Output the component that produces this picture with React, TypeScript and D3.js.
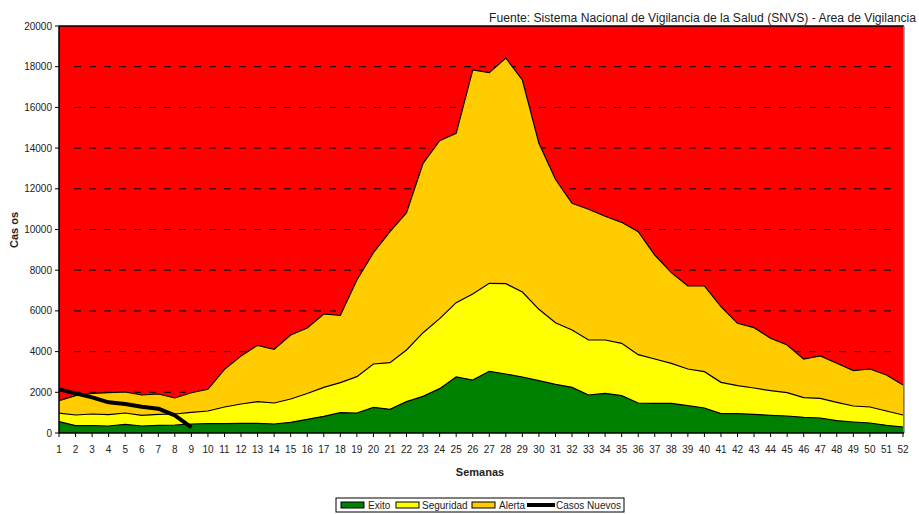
import React from "react";
import * as d3 from "d3";

const weeks: number[] = Array.from({ length: 52 }, (_, i) => i + 1);

// Upper boundary of each zone (cumulative levels)
const exito: number[] = [
  557, 360, 360, 344, 426, 344, 377, 393, 442, 459,
  459, 475, 475, 442, 524, 672, 819, 999, 983, 1261,
  1163, 1540, 1802, 2179, 2752, 2604, 3030, 2899, 2752, 2572,
  2391, 2244, 1867, 1949, 1835, 1474, 1458, 1458, 1343, 1229,
  950, 950, 917, 868, 835, 770, 737, 606, 540, 491,
  377, 295,
];
const seguridad: number[] = [
  980, 884, 933, 900, 983, 868, 917, 933, 1016, 1081,
  1278, 1425, 1540, 1474, 1671, 1940, 2244, 2474, 2768, 3390,
  3456, 4079, 4930, 5620, 6404, 6831, 7356, 7339, 6929, 6077,
  5421, 5061, 4570, 4570, 4406, 3849, 3636, 3424, 3145, 3014,
  2489, 2326, 2211, 2080, 1982, 1736, 1703, 1507, 1327, 1278,
  1081, 884,
];
const alerta: number[] = [
  1590, 1833, 1950, 1980, 2015, 1867, 1916, 1720, 1980, 2146,
  3130, 3784, 4310, 4113, 4816, 5160, 5848, 5783, 7518, 8860,
  9893, 10826, 13252, 14364, 14727, 17838, 17706, 18427, 17346, 14236,
  12467, 11288, 10993, 10650, 10352, 9893, 8747, 7878, 7224, 7224,
  6207, 5390, 5176, 4652, 4324, 3636, 3784, 3424, 3063, 3145,
  2850, 2359,
];
const casosNuevos: number[] = [2146, 1949, 1752, 1507, 1425, 1294, 1196, 868, 278];

const yTicks: number[] = [0, 2000, 4000, 6000, 8000, 10000, 12000, 14000, 16000, 18000, 20000];
const gridTicks: number[] = [2000, 4000, 6000, 8000, 10000, 12000, 14000, 16000, 18000];

const W = 919;
const H = 514;
const L = 59;
const R = 903;
const T = 26;
const B = 433;
const FONT = "Arial, 'Liberation Sans', sans-serif";

export default function App() {
  const x = d3.scaleLinear().domain([1, 52]).range([L, R]);
  const y = d3.scaleLinear().domain([0, 20000]).range([B, T]);

  const zones = [
    { top: alerta, bottom: seguridad, fill: "#FFCC00" },
    { top: seguridad, bottom: exito, fill: "#FFFF00" },
    { top: exito, bottom: null as number[] | null, fill: "#008000" },
  ];

  const areaGen = (top: number[], bottom: number[] | null) =>
    d3
      .area<number>()
      .x((d) => x(d))
      .y0((d, i) => (bottom ? y(bottom[i]) : y(0)))
      .y1((d, i) => y(top[i]))(weeks) || "";

  const lineGen = (vals: number[]) =>
    d3
      .line<number>()
      .x((d, i) => x(weeks[i]))
      .y((d) => y(d))(vals) || "";

  return (
    <svg
      width={W}
      height={H}
      style={{ position: "absolute", left: 0, top: 0, background: "#fff" }}
      fontFamily={FONT}
    >
      <text
        x={916}
        y={22}
        fontSize={12}
        textAnchor="end"
        fill="#222"
        textLength={427}
        lengthAdjust="spacingAndGlyphs"
      >
        Fuente: Sistema Nacional de Vigilancia de la Salud (SNVS) - Area de Vigilancia
      </text>

      {/* plot background */}
      <rect x={L} y={T} width={R + 1 - L} height={B - T} fill="#FF0000" />

      {/* gridlines */}
      {gridTicks.map((t) => (
        <line
          key={"g" + t}
          x1={L + 15}
          x2={R - 6}
          y1={y(t)}
          y2={y(t)}
          stroke="#000"
          strokeWidth={1}
          strokeDasharray="7,8"
        />
      ))}

      {/* areas */}
      {zones.map((z, i) => (
        <path key={"a" + i} d={areaGen(z.top, z.bottom)} fill={z.fill} stroke="none" />
      ))}
      {[alerta, seguridad, exito].map((s, i) => (
        <path key={"l" + i} d={lineGen(s)} fill="none" stroke="#000" strokeWidth={1.2} />
      ))}

      {/* casos nuevos */}
      <path
        d={lineGen(casosNuevos)}
        fill="none"
        stroke="#000"
        strokeWidth={4}
        strokeLinejoin="round"
      />

      {/* borders */}
      <line x1={L} x2={R + 1} y1={T} y2={T} stroke="#000" strokeWidth={1.5} />
      <line x1={R + 1} x2={R + 1} y1={T} y2={B} stroke="#888" strokeWidth={1.5} />
      <line x1={L} x2={L} y1={T} y2={B} stroke="#000" strokeWidth={1.5} />
      <line x1={L} x2={R + 1} y1={B} y2={B} stroke="#000" strokeWidth={1.5} />

      {/* y ticks */}
      {yTicks.map((t) => (
        <g key={"y" + t}>
          <line x1={L - 4} x2={L} y1={y(t)} y2={y(t)} stroke="#000" />
          <text x={52} y={y(t)} dy="0.35em" fontSize={10} textAnchor="end" fill="#222">
            {t}
          </text>
        </g>
      ))}

      {/* x ticks */}
      {weeks.map((w) => (
        <g key={"x" + w}>
          <line x1={x(w)} x2={x(w)} y1={B} y2={B + 4} stroke="#000" />
          <text x={x(w)} y={453} fontSize={10} textAnchor="middle" fill="#222">
            {w}
          </text>
        </g>
      ))}

      {/* axis titles */}
      <text
        transform={`translate(18,230) rotate(-90)`}
        fontSize={11}
        fontWeight="bold"
        textAnchor="middle"
        fill="#222"
      >
        Cas os
      </text>
      <text x={480} y={476} fontSize={11} fontWeight="bold" textAnchor="middle" fill="#222">
        Semanas
      </text>

      {/* legend */}
      <rect x={336} y={498} width={288} height={14} fill="#fff" stroke="#000" strokeWidth={1} />
      <rect x={341} y={502} width={23} height={6} fill="#008000" stroke="#000" />
      <text x={368} y={509} fontSize={10} fill="#222">Exito</text>
      <rect x={396} y={502} width={23} height={6} fill="#FFFF00" stroke="#000" />
      <text x={422} y={509} fontSize={10} fill="#222">Seguridad</text>
      <rect x={472} y={502} width={23} height={6} fill="#FFCC00" stroke="#000" />
      <text x={499} y={509} fontSize={10} fill="#222">Alerta</text>
      <line x1={527} x2={555} y1={505} y2={505} stroke="#000" strokeWidth={4} />
      <text x={556} y={509} fontSize={10} fill="#222">Casos Nuevos</text>
    </svg>
  );
}
